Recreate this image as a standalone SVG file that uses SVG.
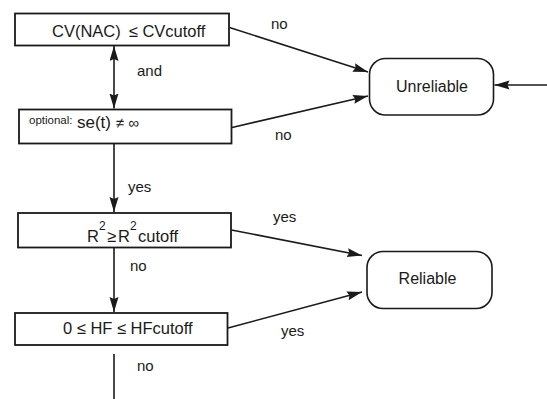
<svg xmlns="http://www.w3.org/2000/svg" width="547" height="399" viewBox="0 0 547 399">
<defs>
<marker id="ah" markerUnits="userSpaceOnUse" markerWidth="16" markerHeight="10" refX="15" refY="4.5" orient="auto-start-reverse">
<path d="M0,0 L15,4.5 L0,9 L2,4.5 z" fill="#1a1a1a"/>
</marker>
<style>
.box{fill:#fff;stroke:#1a1a1a;stroke-width:1.8}
.term{fill:#fff;stroke:#1a1a1a;stroke-width:1.6}
.ln{fill:none;stroke:#1a1a1a;stroke-width:1.6}
.arr{fill:none;stroke:#1a1a1a;stroke-width:1.6;marker-end:url(#ah)}
text{font-family:"Liberation Sans",Arial,sans-serif;fill:#1a1a1a}
.t{font-size:16.5px}
.lb{font-size:15px}
</style>
</defs>
<rect width="547" height="399" fill="#fff"/>
<g id="connectors">
<line class="arr" x1="114" y1="76" x2="114" y2="46" />
<line class="arr" x1="114" y1="76" x2="114" y2="108.5" />
<line class="arr" x1="114" y1="143" x2="114" y2="212" />
<line class="arr" x1="114" y1="247.5" x2="114" y2="312" />
<line class="ln" x1="114" y1="354" x2="114" y2="399" />
<line class="arr" x1="229.5" y1="27.5" x2="368" y2="72" />
<line class="arr" x1="232" y1="127.5" x2="368" y2="96" />
<line class="arr" x1="547" y1="85" x2="494.5" y2="85" />
<line class="arr" x1="231.5" y1="230" x2="362" y2="255.5" />
<line class="arr" x1="228" y1="328" x2="362" y2="292" />
<text class="lb" x="271" y="29">no</text>
<text class="lb" x="275" y="140">no</text>
<text class="lb" x="137" y="76">and</text>
<text class="lb" x="128" y="192">yes</text>
<text class="lb" x="130" y="271">no</text>
<text class="lb" x="137" y="371">no</text>
<text class="lb" x="273" y="222">yes</text>
<text class="lb" x="281" y="336">yes</text>
</g>
<g id="cv">
<rect class="box" x="15" y="13.5" width="214" height="32"/>
<text class="t" x="52" y="37">CV(NAC)<tspan dx="8">≤ CVcutoff</tspan></text>
</g>
<g id="se">
<rect class="box" x="19" y="109.5" width="212.5" height="34"/>
<text x="29" y="124" font-size="11.5">optional:</text>
<text x="77" y="128" font-size="17">se(t) <tspan font-size="15">≠ ∞</tspan></text>
</g>
<g id="r2">
<rect class="box" x="18" y="213" width="213" height="34.5"/>
<text class="t" y="242"><tspan x="87">R</tspan><tspan x="99" y="230" font-size="12">2</tspan><tspan x="107" y="242">≥</tspan><tspan x="118">R</tspan><tspan x="130" y="230" font-size="12">2</tspan><tspan x="138" y="242">cutoff</tspan></text>
</g>
<g id="hf">
<rect class="box" x="15" y="313" width="212.5" height="32"/>
<text class="t" x="63" y="334">0 ≤ HF ≤ HFcutoff</text>
</g>
<g id="unreliable">
<rect class="term" x="369.5" y="58.5" width="124" height="56.5" rx="16"/>
<text x="432" y="92" font-size="16" text-anchor="middle">Unreliable</text>
</g>
<g id="reliable">
<rect class="term" x="367" y="251.5" width="125" height="57" rx="16"/>
<text x="427.5" y="284" font-size="16" text-anchor="middle">Reliable</text>
</g>
</svg>
